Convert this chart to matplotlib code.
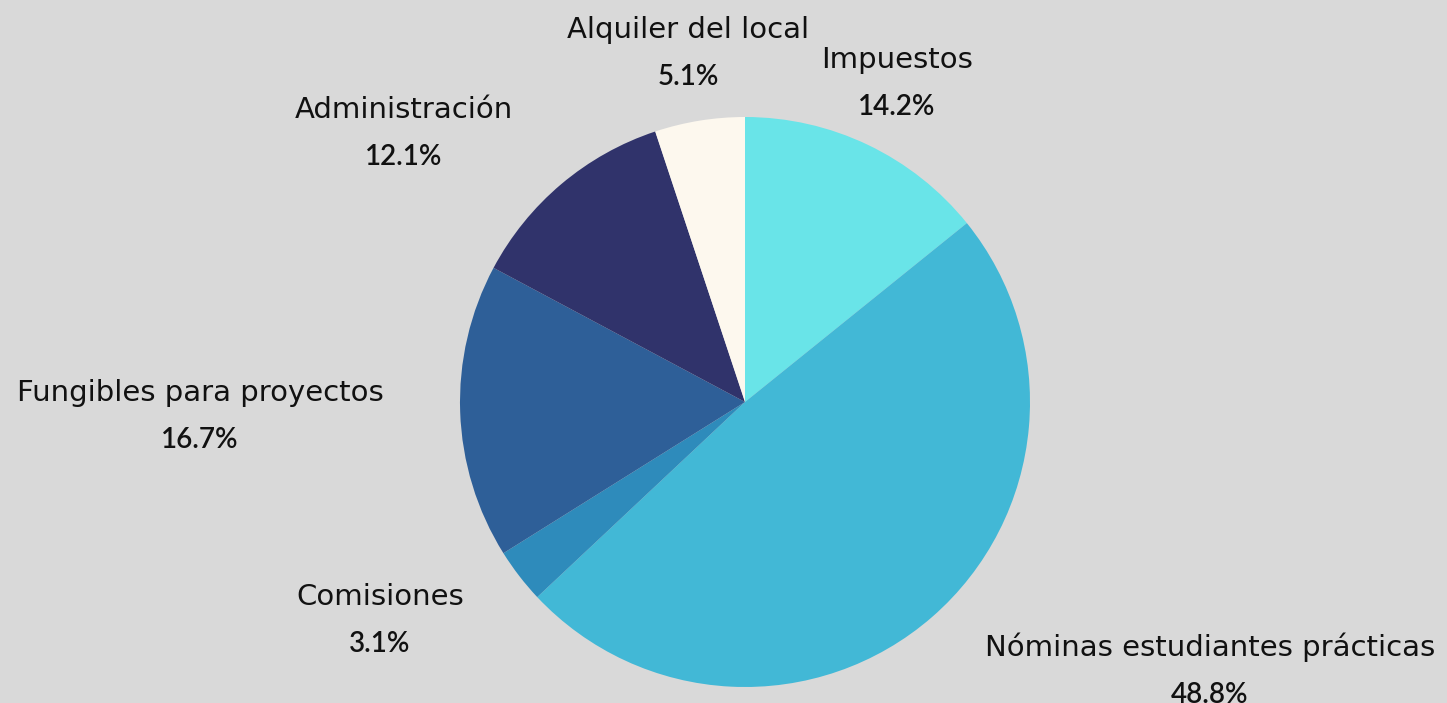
"""Pie chart of expense distribution"""
import numpy as np
import matplotlib.pyplot as plt

labels = ['Impuestos', 'Nóminas estudiantes prácticas', 'Comisiones',
          'Fungibles para proyectos', 'Administración', 'Alquiler del local']
shares = [14.2, 48.8, 3.1, 16.7, 12.1, 5.1]
colors = ['#69e4e8', '#42b8d6', '#2e8bbb', '#2e5f98', '#30336b', '#fdf8ee']

# label centres in pixels (x, y from top)
label_pos = [(897, 80), (1210, 668), (380, 617), (200, 413), (404, 130), (688, 50)]

W, H = 1447, 703
bg = '#d9d9d9'

fig = plt.figure(figsize=(W / 100, H / 100), dpi=100, facecolor=bg)
ax = fig.add_axes([0, 0, 1, 1])
ax.set_facecolor(bg)

ax.pie(shares, colors=colors, startangle=90, counterclock=False,
       center=(745, H - 402), radius=285, frame=True,
       wedgeprops=dict(linewidth=0))

ax.set_xlim(0, W)
ax.set_ylim(0, H)
ax.set_aspect('equal')
ax.axis('off')

for lab, val, (x, y) in zip(labels, shares, label_pos):
    ax.text(x, H - y + 12, lab, ha='center', va='baseline', fontsize=21,
            family='DejaVu Sans', color='#111111')
    ax.text(x, H - y - 35, '%.1f%%' % val, ha='center', va='baseline',
            fontsize=20, family='Lato', weight='semibold', color='#111111')

fig.savefig('out.png', dpi=100, facecolor=bg)
